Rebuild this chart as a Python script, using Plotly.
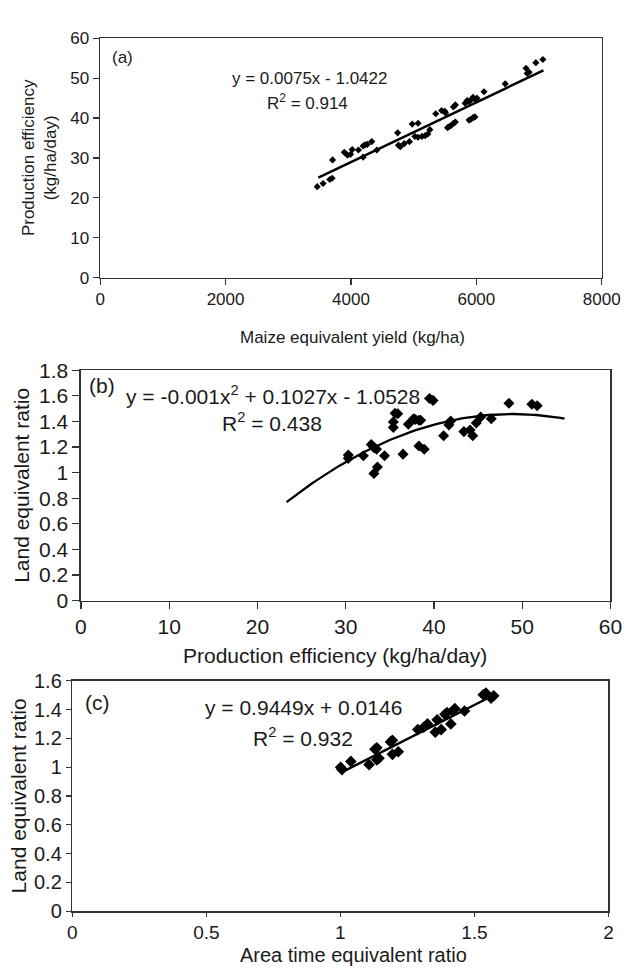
import numpy as np
import plotly.graph_objects as go

# ---------------- data ----------------
# Panel (a): maize equivalent yield (kg/ha) vs production efficiency (kg/ha/day)
a_yield = [3462, 3556, 3662, 3700, 3706, 3894, 3944, 3994, 4019, 4119, 4194, 4225, 4260, 4332,
           4194, 4413, 4745, 4758, 4788, 4851, 4933, 4977, 5070, 5020, 5070, 5133, 5183,
           5227, 5258, 5352, 5446, 5496, 5508, 5540, 5571, 5603, 5634, 5665, 5634, 5665,
           5822, 5853, 5884, 5916, 5947, 5978, 6010, 5884, 5916, 5947, 5978, 6122, 6460,
           6792, 6811, 6842, 6949, 7061]
a_eff = [22.8, 23.6, 24.6, 24.9, 29.5, 31.4, 30.7, 30.9, 32.1, 32.0, 33.0, 33.3, 33.4, 34.1,
         30.2, 32.0, 36.3, 33.2, 32.8, 33.6, 34.1, 38.5, 38.7, 35.4, 35.2, 35.4, 35.6,
         36.0, 37.1, 41.1, 41.9, 41.7, 41.3, 37.6, 37.9, 38.2, 38.7, 39.0, 42.8, 43.3,
         43.7, 44.4, 44.1, 44.6, 45.2, 44.7, 45.0, 39.5, 39.7, 40.1, 40.3, 46.6, 48.6,
         52.5, 51.2, 51.5, 53.9, 54.7]
a_fit = [0.0075, -1.0422]          # slope, intercept
a_fit_range = [3480, 7070]

# Panel (b): production efficiency vs land equivalent ratio
b_eff = [30.3, 30.3, 32.0, 32.9, 33.2, 33.5, 33.2, 33.6, 34.4, 35.4, 35.4, 35.6, 35.9, 36.5,
         37.1, 37.7, 37.9, 38.3, 38.5, 38.3, 38.9, 39.5, 39.9, 41.1, 41.7, 41.9, 43.4,
         44.1, 44.4, 44.8, 45.3, 46.5, 48.5, 51.1, 51.7]
b_ler = [1.138, 1.112, 1.133, 1.22, 1.196, 1.183, 0.994, 1.045, 1.133, 1.397, 1.354, 1.465,
         1.46, 1.145, 1.379, 1.422, 1.415, 1.41, 1.41, 1.208, 1.183, 1.58, 1.565, 1.289,
         1.372, 1.404, 1.321, 1.334, 1.289, 1.389, 1.435, 1.422, 1.543, 1.535, 1.523]
b_fit = [-0.00105, 0.1027, -1.0528]   # quadratic coefficients
b_fit_range = [23.3, 54.8]

# Panel (c): area time equivalent ratio vs land equivalent ratio
c_ater = [1.001, 1.006, 1.039, 1.107, 1.129, 1.136, 1.136, 1.144, 1.187, 1.194, 1.194, 1.216,
          1.289, 1.311, 1.325, 1.354, 1.361, 1.376, 1.390, 1.398, 1.412, 1.419, 1.427,
          1.463, 1.533, 1.543, 1.562, 1.572]
c_ler = [0.999, 0.983, 1.040, 1.017, 1.125, 1.134, 1.051, 1.062, 1.175, 1.187, 1.089, 1.107,
         1.261, 1.277, 1.300, 1.243, 1.329, 1.261, 1.367, 1.379, 1.300, 1.390, 1.406,
         1.390, 1.503, 1.514, 1.480, 1.496]
c_fit = [0.9449, 0.0146]
c_fit_range = [1.0, 1.575]

# ---------------- figure ----------------
W, H = 639, 970
TXT = "#1a1a1a"
AX = "#333333"
FONT = "Liberation Sans, Arial, sans-serif"


def px_x(p):
    return p / W


def px_y(p):
    return 1 - p / H


fig = go.Figure()

# panel a
xa = np.linspace(a_fit_range[0], a_fit_range[1], 50)
fig.add_trace(go.Scatter(x=a_yield, y=a_eff, mode="markers", xaxis="x", yaxis="y",
                         marker=dict(symbol="diamond", size=5.5, color="black"), showlegend=False))
fig.add_trace(go.Scatter(x=xa, y=a_fit[0] * xa + a_fit[1], mode="lines", xaxis="x", yaxis="y",
                         line=dict(color="black", width=2.5), showlegend=False))

# panel b
xb = np.linspace(b_fit_range[0], b_fit_range[1], 100)
fig.add_trace(go.Scatter(x=b_eff, y=b_ler, mode="markers", xaxis="x2", yaxis="y2",
                         marker=dict(symbol="diamond", size=8.5, color="black"), showlegend=False))
fig.add_trace(go.Scatter(x=xb, y=np.polyval(b_fit, xb), mode="lines", xaxis="x2", yaxis="y2",
                         line=dict(color="black", width=2.3), showlegend=False))

# panel c
xc = np.linspace(c_fit_range[0], c_fit_range[1], 20)
fig.add_trace(go.Scatter(x=c_ater, y=c_ler, mode="markers", xaxis="x3", yaxis="y3",
                         marker=dict(symbol="diamond", size=9, color="black"), showlegend=False))
fig.add_trace(go.Scatter(x=xc, y=c_fit[0] * xc + c_fit[1], mode="lines", xaxis="x3", yaxis="y3",
                         line=dict(color="black", width=2.5), showlegend=False))


def axis(domain, rng, dtick, fsize, ticklen, anchor):
    return dict(domain=domain, range=rng, dtick=dtick, tick0=0, autorange=False,
                showgrid=False, zeroline=False, showline=True, linecolor=AX, linewidth=1.5,
                mirror=True, ticks="outside", ticklen=ticklen, tickwidth=1.2, tickcolor=AX,
                tickfont=dict(family=FONT, size=fsize, color=TXT), anchor=anchor, fixedrange=True)


# pixel domains
a_l, a_r, a_t, a_b = 98, 620, 27, 272
b_l, b_r, b_t, b_b = 78, 629, 367, 603
c_l, c_r, c_t, c_b = 69, 627, 685, 921

fig.update_layout(
    width=W, height=H, autosize=False,
    margin=dict(l=0, r=0, t=0, b=0),
    paper_bgcolor="white", plot_bgcolor="white",
    font=dict(family=FONT, color=TXT),
    xaxis=axis([px_x(a_l), px_x(a_r)], [0, 8000], 2000, 17, 6, "y"),
    yaxis=axis([px_y(a_b), px_y(a_t)], [0, 60], 10, 17, 6, "x"),
    xaxis2=axis([px_x(b_l), px_x(b_r)], [0, 60], 10, 21, 7, "y2"),
    yaxis2=axis([px_y(b_b), px_y(b_t)], [0, 1.8], 0.2, 21, 7, "x2"),
    xaxis3=axis([px_x(c_l), px_x(c_r)], [0, 2], 0.5, 19, 4, "y3"),
    yaxis3=axis([px_y(c_b), px_y(c_t)], [0, 1.6], 0.2, 20, 5, "x3"),
)

ann = []


def paper_text(text, x, y, size, angle=0):
    ann.append(dict(text=text, x=px_x(x), y=px_y(y), xref="paper", yref="paper",
                    showarrow=False, textangle=angle, xanchor="center", yanchor="middle",
                    font=dict(family=FONT, size=size, color=TXT)))


def data_text(text, x, y, xr, yr, size, xanchor="center"):
    ann.append(dict(text=text, x=x, y=y, xref=xr, yref=yr, showarrow=False,
                    xanchor=xanchor, yanchor="middle",
                    font=dict(family=FONT, size=size, color=TXT)))


# axis titles
paper_text("Production efficiency<br>(kg/ha/day)", 35, 149, 17, -90)
paper_text("Maize equivalent yield (kg/ha)", 361, 333, 17)
paper_text("Land equivalent ratio", 16, 485, 21, -90)
paper_text("Production efficiency (kg/ha/day)", 342, 659, 21)
paper_text("Land equivalent ratio", 14, 803, 21, -90)
paper_text("Area time equivalent ratio", 362, 966, 20)

# panel labels & equations
data_text("(a)", 153, 55.1, "x", "y", 17, "left")
data_text("y = 0.0075x - 1.0422", 3341, 50, "x", "y", 17)
data_text("R<sup>2</sup> = 0.914", 3310, 44.1, "x", "y", 17)

data_text("(b)", 0.65, 1.68, "x2", "y2", 21, "left")
data_text("y = -0.001x<sup>2</sup> + 0.1027x - 1.0528", 21.8, 1.61, "x2", "y2", 21)
data_text("R<sup>2</sup> = 0.438", 21.7, 1.395, "x2", "y2", 21)

data_text("(c)", 0.0385, 1.446, "x3", "y3", 21, "left")
data_text("y = 0.9449x + 0.0146", 0.862, 1.413, "x3", "y3", 21)
data_text("R<sup>2</sup> = 0.932", 0.862, 1.212, "x3", "y3", 21)

fig.update_layout(annotations=ann)

fig.write_html("out.html", config={"displayModeBar": False, "staticPlot": True},
               post_script="document.body.style.margin='0';document.body.style.overflow='hidden';")
